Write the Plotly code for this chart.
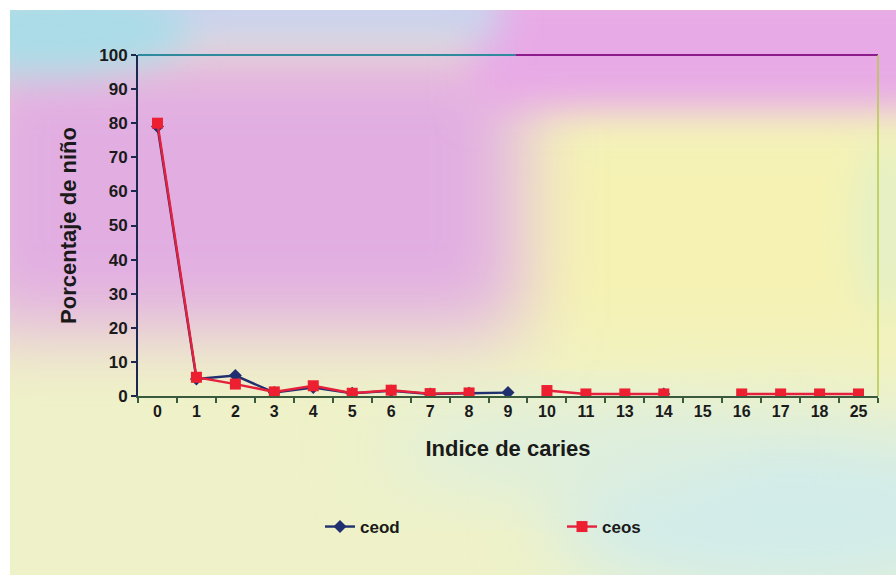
import base64
import plotly.graph_objects as go

# Caries index categories and percentage of children per index
indice = ["0", "1", "2", "3", "4", "5", "6", "7", "8", "9",
          "10", "11", "13", "14", "15", "16", "17", "18", "25"]
ceod = [79, 5, 6, 1.0, 2.5, 0.8, 1.5, 0.6, 0.8, 1.0,
        None, None, None, 0.6, None, None, None, None, None]
ceos = [80, 5.5, 3.5, 1.2, 3.0, 0.8, 1.7, 0.7, 0.9, None,
        1.6, 0.6, 0.6, 0.6, None, 0.6, 0.6, 0.6, 0.6]

W, H = 896, 578
L, R, T, B = 138, 18, 55, 182
PW, PH = W - L - R, H - T - B

# Soft pastel wash behind the whole chart
svg = f"""<svg xmlns='http://www.w3.org/2000/svg' width='{W}' height='{H}' viewBox='0 0 {W} {H}'>
<defs>
<filter id='b1' x='-50%' y='-50%' width='200%' height='200%'><feGaussianBlur stdDeviation='38'/></filter>
<filter id='b2' x='-50%' y='-50%' width='200%' height='200%'><feGaussianBlur stdDeviation='18'/></filter>
<clipPath id='c'><rect x='10' y='10' width='886' height='565'/></clipPath>
</defs>
<rect width='{W}' height='{H}' fill='#ffffff'/>
<g clip-path='url(#c)'>
<rect x='0' y='0' width='{W}' height='{H}' fill='#eff2c8'/>
<rect x='520' y='110' width='420' height='240' fill='#f5f2b4' filter='url(#b1)'/>
<ellipse cx='790' cy='515' rx='240' ry='90' fill='#d2ecea' filter='url(#b1)'/>
<ellipse cx='560' cy='450' rx='180' ry='40' fill='#dceee0' filter='url(#b1)'/>
<rect x='-40' y='45' width='560' height='285' fill='#e2aee2' filter='url(#b1)'/>
<rect x='470' y='-20' width='480' height='130' fill='#e8aae6' filter='url(#b2)'/>
<rect x='60' y='-20' width='440' height='62' fill='#cad2ee' filter='url(#b2)'/>
<ellipse cx='40' cy='30' rx='150' ry='45' fill='#aadce8' filter='url(#b2)'/>
<ellipse cx='885' cy='230' rx='30' ry='90' fill='#e4f0c6' filter='url(#b2)'/>
</g>
</svg>"""
bg_uri = "data:image/svg+xml;base64," + base64.b64encode(svg.encode()).decode()

FONT = "Liberation Sans, Arial, sans-serif"
INK = "#1a1a1a"

fig = go.Figure()
fig.add_trace(go.Scatter(
    x=indice, y=ceod, name="ceod", mode="lines+markers",
    line=dict(color="#1f2f70", width=2.4),
    marker=dict(symbol="diamond", size=10, color="#1f2f70"),
))
fig.add_trace(go.Scatter(
    x=indice, y=ceos, name="ceos", mode="lines+markers",
    line=dict(color="#e5203c", width=2.4),
    marker=dict(symbol="square", size=11, color="#ec2030"),
))

# Plot-area frame: top and right edges
fig.add_shape(type="line", xref="paper", yref="paper", x0=0, x1=0.51, y0=1, y1=1,
              line=dict(color="#2e8a9c", width=2))
fig.add_shape(type="line", xref="paper", yref="paper", x0=0.51, x1=1, y0=1, y1=1,
              line=dict(color="#8c1c8c", width=2))
fig.add_shape(type="line", xref="paper", yref="paper", x0=1, x1=1, y0=0, y1=1,
              line=dict(color="#b4c84c", width=1.5))

fig.add_layout_image(dict(
    source=bg_uri, xref="paper", yref="paper",
    x=-L / PW, y=1 + T / PH, sizex=W / PW, sizey=H / PH,
    xanchor="left", yanchor="top", sizing="stretch", layer="below",
))

fig.update_layout(
    width=W, height=H,
    margin=dict(l=L, r=R, t=T, b=B, autoexpand=False),
    paper_bgcolor="#ffffff", plot_bgcolor="rgba(0,0,0,0)",
    font=dict(family=FONT, color=INK),
    showlegend=True,
    legend=dict(
        orientation="h", x=(320 - L) / PW, xanchor="left",
        y=-(527 - T - PH) / PH, yanchor="middle",
        bgcolor="rgba(0,0,0,0)", entrywidth=197, entrywidthmode="pixels",
        font=dict(size=17, family=FONT, color=INK, weight="bold"),
        itemclick=False,
    ),
    xaxis=dict(
        type="category", range=[-0.5, 18.5], tickson="boundaries",
        showline=True, linecolor="#3a5a3e", linewidth=2,
        ticks="outside", ticklen=5, tickcolor="#3a5a3e", tickwidth=1.5,
        showgrid=False, zeroline=False,
        tickfont=dict(size=16, family=FONT, color=INK, weight="bold"),
        title=dict(text="Indice de caries", standoff=21,
                   font=dict(size=22, family=FONT, color=INK, weight="bold")),
    ),
    yaxis=dict(
        range=[0, 100], dtick=10,
        showline=True, linecolor="#1c2850", linewidth=2,
        ticks="outside", ticklen=5, tickcolor="#1c2850", tickwidth=1.5,
        showgrid=False, zeroline=False,
        tickfont=dict(size=17, family=FONT, color=INK, weight="bold"),
        title=dict(text="Porcentaje de niño", standoff=17,
                   font=dict(size=22, family=FONT, color=INK, weight="bold")),
    ),
)

fig.write_html("out.html")
